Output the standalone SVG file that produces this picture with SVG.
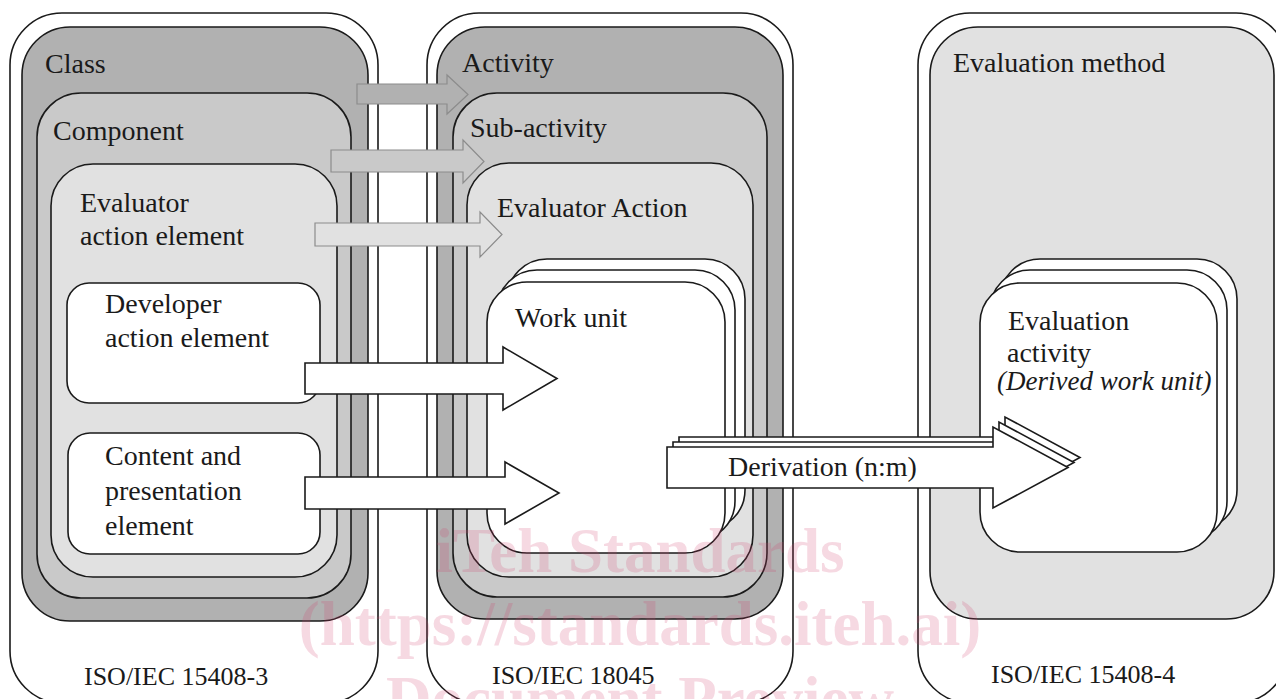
<svg xmlns="http://www.w3.org/2000/svg" width="1276" height="699" viewBox="0 0 1276 699">
<style>
  .box { stroke: #1a1a1a; stroke-width: 1.6; }
  .outer { fill: #ffffff; }
  .d1 { fill: #b1b1b1; }
  .d2 { fill: #c9c9c9; }
  .d3 { fill: #e1e1e1; }
  .wh { fill: #ffffff; }
  .lbl { font-family: "Liberation Serif", "Times New Roman", serif; font-size: 28px; fill: #1a1a1a; }
  .iso { font-size: 26px; }
  .it { font-style: italic; font-size: 27px; }
  .garr { stroke: #8c8c8c; stroke-width: 1.2; }
  .warr { fill: #ffffff; stroke: #1a1a1a; stroke-width: 1.6; }
  .wm { font-family: "Liberation Serif", "Times New Roman", serif; font-weight: bold; font-size: 63px; fill: #d04070; fill-opacity: 0.2; text-anchor: middle; }
</style>
<rect width="1276" height="699" fill="#ffffff"/>

<!-- ISO/IEC 15408-3 column -->
<g id="iso15408-3">
  <rect class="box outer" x="10" y="13" width="368" height="690" rx="52"/>
  <text class="lbl iso" x="84" y="685">ISO/IEC 15408-3</text>
</g>
<g id="class">
  <rect class="box d1" x="22" y="27" width="346" height="594" rx="48"/>
  <text class="lbl" x="45" y="73">Class</text>
</g>
<g id="component">
  <rect class="box d2" x="37" y="93" width="314" height="505" rx="44"/>
  <text class="lbl" x="53" y="140">Component</text>
</g>
<g id="evaluator-action-element">
  <rect class="box d3" x="51" y="164" width="286" height="413" rx="42"/>
  <text class="lbl" x="80" y="212">Evaluator</text>
  <text class="lbl" x="80" y="245">action element</text>
</g>
<g id="developer-action-element">
  <rect class="box wh" x="67" y="283" width="253" height="120" rx="22"/>
  <text class="lbl" x="105" y="313">Developer</text>
  <text class="lbl" x="105" y="347">action element</text>
</g>
<g id="content-presentation-element">
  <rect class="box wh" x="68" y="433" width="252" height="121" rx="22"/>
  <text class="lbl" x="105" y="465">Content and</text>
  <text class="lbl" x="105" y="500">presentation</text>
  <text class="lbl" x="105" y="535">element</text>
</g>

<!-- ISO/IEC 18045 column -->
<g id="iso18045">
  <rect class="box outer" x="427" y="13" width="366" height="690" rx="52"/>
  <text class="lbl iso" x="492" y="684">ISO/IEC 18045</text>
</g>
<g id="activity">
  <rect class="box d1" x="437" y="27" width="346" height="592" rx="48"/>
  <text class="lbl" x="462" y="72">Activity</text>
</g>
<g id="sub-activity">
  <rect class="box d2" x="453" y="93" width="314" height="504" rx="44"/>
  <text class="lbl" x="470" y="137">Sub-activity</text>
</g>
<g id="evaluator-action">
  <rect class="box d3" x="467" y="163" width="286" height="414" rx="42"/>
  <text class="lbl" x="497" y="217">Evaluator Action</text>
</g>
<g id="work-unit">
  <rect class="box wh" x="507" y="259" width="238" height="271" rx="40"/>
  <rect class="box wh" x="497" y="270" width="238" height="271" rx="40"/>
  <rect class="box wh" x="487" y="282" width="238" height="271" rx="40"/>
  <text class="lbl" x="515" y="327">Work unit</text>
</g>

<!-- ISO/IEC 15408-4 column -->
<g id="iso15408-4">
  <rect class="box outer" x="918" y="13" width="370" height="690" rx="52"/>
  <text class="lbl iso" x="991" y="683">ISO/IEC 15408-4</text>
</g>
<g id="evaluation-method">
  <rect class="box d3" x="930" y="27" width="344" height="592" rx="48"/>
  <text class="lbl" x="953" y="72">Evaluation method</text>
</g>
<g id="evaluation-activity">
  <rect class="box wh" x="1000" y="259" width="237" height="271" rx="40"/>
  <rect class="box wh" x="990" y="270" width="237" height="271" rx="40"/>
  <rect class="box wh" x="980" y="283" width="237" height="269" rx="40"/>
  <text class="lbl" x="1008" y="330">Evaluation</text>
  <text class="lbl" x="1007" y="362">activity</text>
  <text class="lbl it" x="997" y="390">(Derived work unit)</text>
</g>

<!-- Connectors -->
<g id="connectors">
  <path class="garr d1" d="M357,84 H447 V75 L468,94.5 L447,114 V104 H357 Z"/>
  <path class="garr d2" d="M331,150 H463 V140 L484,161.5 L463,183 V172 H331 Z"/>
  <path class="garr d3" d="M315,223 H480 V212 L502,234.5 L480,257 V246 H315 Z"/>
  <path class="warr" d="M305,363 H503 V347 L557,378.5 L503,410 V394 H305 Z"/>
  <path class="warr" d="M305,477 H505 V462 L559,493 L505,524 V509 H305 Z"/>
  <g id="derivation">
    <path class="warr" d="M679,437 H1005 V417 L1080,457.5 L1005,498 V478 H679 Z"/>
    <path class="warr" d="M673,442 H999 V422 L1074,462.5 L999,503 V483 H673 Z"/>
    <path class="warr" d="M667,447 H993 V427 L1068,467.5 L993,508 V488 H667 Z"/>
    <text class="lbl" x="728" y="476">Derivation (n:m)</text>
  </g>
</g>

<!-- Watermark -->
<g id="watermark">
  <text class="wm" x="640" y="572">iTeh Standards</text>
  <text class="wm" x="640" y="645">(https://standards.iteh.ai)</text>
  <text class="wm" x="640" y="720">Document Preview</text>
</g>
</svg>
